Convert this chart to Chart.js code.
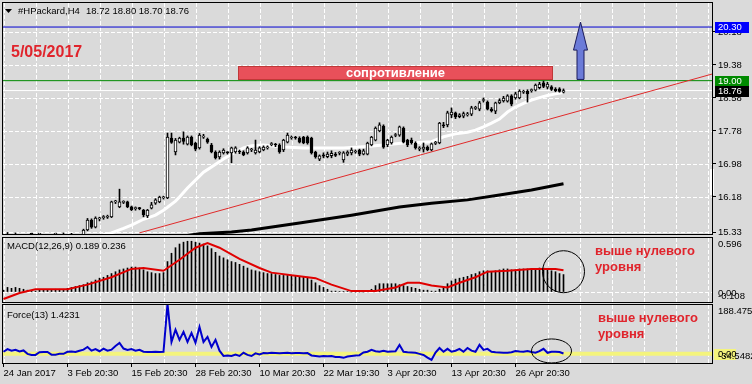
<!DOCTYPE html>
<html>
<head>
<meta charset="utf-8">
<script src="https://cdn.jsdelivr.net/npm/chart.js@4.4.1/dist/chart.umd.min.js"></script>
<style>
  html, body { margin: 0; padding: 0; background: #dadada; }
  #wrap { position: relative; width: 752px; height: 384px; background: #dadada; overflow: hidden; }
  #wrap canvas { position: absolute; left: 0; }
</style>
</head>
<body>
<div id="wrap">
  <canvas id="cMain" width="752" height="236" style="top:0px"></canvas>
  <canvas id="cMacd" width="752" height="67" style="top:236px"></canvas>
  <canvas id="cForce" width="752" height="81" style="top:303px"></canvas>
</div>
<script>
// ---------- texts ----------
const symbolTitle = '#HPackard,H4';
const lastQuote = ['18.72', '18.80', '18.70', '18.76'];
const dateNote = '5/05/2017';
const zoneLabel = 'сопротивление';
const aboveZeroLines = ['выше нулевого', 'уровня'];
const macdTitle = 'MACD(12,26,9) 0.189 0.236';
const forceTitle = 'Force(13) 1.4231';

// ---------- axes ----------
const xTickBars = [0, 16, 32, 48, 64, 80, 96, 112, 128];
const xTickLabels = ['24 Jan 2017', '3 Feb 20:30', '15 Feb 20:30', '28 Feb 20:30', '10 Mar 20:30',
                     '22 Mar 19:30', '3 Apr 20:30', '13 Apr 20:30', '26 Apr 20:30'];
const priceTicks = [15.33, 16.18, 16.98, 17.78, 18.58, 19.38, 20.18];
const PRICE_MIN = 15.283, PRICE_MAX = 20.907;
const MACD_MIN = -0.108, MACD_MAX = 0.596;
const FORCE_MIN = -34.5482, FORCE_MAX = 188.4755;

// ---------- H4 candles ----------
const opens = [
15.10,15.15,15.20,15.08,15.18,15.04,14.95,15.00,14.98,14.94,
14.96,15.06,15.02,15.10,15.12,15.18,15.22,15.14,15.20,15.12,
15.26,15.38,15.62,15.45,15.65,15.68,15.69,15.70,16.06,15.94,
16.05,16.06,15.94,15.90,15.91,15.86,15.72,15.91,16.03,16.06,
16.16,16.16,17.61,17.27,17.51,17.61,17.46,17.63,17.49,17.37,
17.63,17.58,17.44,17.27,17.15,17.25,17.26,17.25,17.27,17.28,
17.27,17.25,17.32,17.25,17.27,17.32,17.37,17.45,17.45,17.44,
17.32,17.51,17.61,17.62,17.60,17.63,17.63,17.61,17.27,17.10,
17.20,17.16,17.18,17.22,17.24,17.08,17.22,17.25,17.27,17.32,
17.22,17.22,17.44,17.56,17.78,17.90,17.44,17.49,17.67,17.68,
17.85,17.56,17.56,17.49,17.34,17.34,17.39,17.32,17.48,17.49,
17.93,17.93,18.17,18.22,18.13,18.14,18.17,18.19,18.33,18.31,
18.52,18.48,18.31,18.26,18.46,18.51,18.50,18.63,18.58,18.58,
18.72,18.74,18.76,18.77,18.83,18.95,18.84,18.85,18.79,18.80,
18.72];
const highs = [
15.20,15.32,15.25,15.31,15.22,15.10,15.05,15.08,15.05,15.02,
15.10,15.12,15.15,15.20,15.22,15.31,15.27,15.30,15.26,15.27,
15.40,15.66,15.65,15.70,15.69,15.73,15.74,16.08,16.10,16.37,
16.09,16.08,15.96,15.94,15.93,15.88,15.88,16.05,16.14,16.20,
16.20,17.73,17.73,17.60,17.63,17.76,17.66,17.66,17.51,17.72,
17.70,17.61,17.48,17.30,17.30,17.35,17.28,17.39,17.40,17.32,
17.30,17.40,17.36,17.56,17.40,17.42,17.42,17.50,17.48,17.47,
17.58,17.73,17.66,17.65,17.64,17.65,17.66,17.63,17.29,17.20,
17.25,17.27,17.30,17.26,17.28,17.28,17.30,17.37,17.32,17.34,
17.34,17.51,17.65,17.88,17.98,17.93,17.58,17.66,17.72,17.90,
17.88,17.58,17.61,17.52,17.40,17.49,17.42,17.49,17.53,17.99,
17.99,18.26,18.34,18.24,18.20,18.24,18.23,18.38,18.38,18.50,
18.58,18.51,18.35,18.48,18.56,18.62,18.66,18.66,18.72,18.78,
18.77,18.78,18.80,18.92,18.96,18.99,18.96,18.88,18.83,18.83,
18.80];
const lows = [
15.05,15.10,15.05,15.02,15.00,14.90,14.85,14.92,14.88,14.86,
14.92,14.98,14.98,15.04,15.06,15.12,15.10,15.10,15.08,15.06,
15.24,15.36,15.42,15.43,15.60,15.64,15.66,15.68,16.02,15.92,
16.02,15.92,15.85,15.86,15.87,15.70,15.68,15.89,16.00,16.04,
16.13,16.14,17.48,17.20,17.49,17.46,17.44,17.42,17.30,17.34,
17.60,17.48,17.25,17.10,17.10,17.22,17.22,17.01,17.24,17.23,
17.18,17.22,17.28,17.22,17.25,17.30,17.34,17.42,17.40,17.24,
17.28,17.49,17.58,17.58,17.49,17.47,17.46,17.22,17.12,17.06,
17.13,17.13,17.13,17.16,17.20,17.02,17.18,17.20,17.24,17.18,
17.20,17.20,17.42,17.54,17.76,17.36,17.40,17.46,17.64,17.65,
17.49,17.40,17.46,17.34,17.30,17.27,17.30,17.30,17.45,17.47,
17.86,17.88,18.10,18.08,18.10,18.10,18.14,18.15,18.30,18.27,
18.48,18.29,18.24,18.20,18.44,18.48,18.48,18.39,18.55,18.56,
18.69,18.48,18.72,18.75,18.80,18.83,18.80,18.76,18.73,18.72,
18.70];
const closes = [
15.15,15.20,15.08,15.18,15.04,14.95,15.00,14.98,14.94,14.96,
15.06,15.02,15.10,15.12,15.18,15.22,15.14,15.20,15.12,15.24,
15.38,15.62,15.45,15.67,15.66,15.70,15.71,16.06,16.07,16.06,
16.06,15.94,15.87,15.91,15.90,15.75,15.86,15.99,16.11,16.18,
16.17,17.63,17.50,17.56,17.61,17.53,17.63,17.44,17.34,17.68,
17.64,17.51,17.27,17.13,17.27,17.32,17.25,17.37,17.37,17.27,
17.20,17.37,17.33,17.32,17.37,17.39,17.38,17.46,17.44,17.27,
17.56,17.68,17.62,17.61,17.51,17.49,17.49,17.25,17.15,17.18,
17.17,17.22,17.24,17.19,17.25,17.25,17.27,17.32,17.28,17.22,
17.30,17.49,17.63,17.85,17.93,17.39,17.56,17.63,17.68,17.88,
17.51,17.44,17.49,17.37,17.37,17.39,17.33,17.47,17.49,17.97,
17.90,18.22,18.24,18.12,18.17,18.20,18.19,18.34,18.34,18.46,
18.53,18.31,18.27,18.46,18.52,18.58,18.63,18.43,18.68,18.75,
18.73,18.68,18.77,18.89,18.92,18.86,18.92,18.79,18.76,18.74,
18.76];

// ---------- moving averages ----------
const maFastBar = [0,15,27,30,32,35,38,40,41,43,44,46,48,50,52,55,58,60,62,65,70,75,80,85,90,95,100,105,107,110,113,116,118,120,122,124,126,128,130,132,134,136,138,140];
const maFastVal = [14.90,15.05,15.31,15.42,15.50,15.64,15.74,15.86,15.93,16.08,16.18,16.40,16.59,16.78,16.91,17.10,17.27,17.37,17.42,17.44,17.39,17.37,17.37,17.37,17.40,17.44,17.49,17.51,17.52,17.64,17.71,17.75,17.80,17.88,17.97,18.07,18.24,18.36,18.45,18.53,18.59,18.64,18.68,18.71];
const maSlowBar = [0,49,57,62,74,87,99,107,116,124,132,140];
const maSlowVal = [14.60,15.29,15.33,15.38,15.55,15.74,15.94,16.03,16.11,16.23,16.35,16.50];

// ---------- drawn objects ----------
const trendBar = [34, 177.125];
const trendVal = [15.31, 19.16];
const levelTarget = 20.30, levelResist = 19.00, levelBid = 18.76;
const zoneBars = [58.6, 137.4];
const zonePrices = [19.03, 19.36];
const arrowBar = 144, arrowFrom = 19.03, arrowTo = 20.42;

// ---------- MACD ----------
const macdHist = [
0.02,0.05,0.04,0.05,0.04,0.03,0.02,0.01,0.01,0.02,
0.02,0.02,0.02,0.03,0.03,0.03,0.04,0.05,0.06,0.07,
0.08,0.10,0.11,0.13,0.15,0.16,0.18,0.20,0.22,0.24,
0.25,0.26,0.27,0.27,0.26,0.24,0.22,0.21,0.20,0.20,
0.21,0.33,0.42,0.48,0.52,0.54,0.55,0.55,0.54,0.53,
0.52,0.50,0.47,0.43,0.39,0.37,0.35,0.33,0.32,0.30,
0.28,0.26,0.24,0.23,0.22,0.21,0.20,0.20,0.19,0.18,
0.18,0.18,0.18,0.17,0.17,0.17,0.16,0.13,0.10,0.07,
0.05,0.03,0.01,0.01,0.005,0.005,0.005,0,0,0,
0,0.01,0.03,0.07,0.09,0.09,0.09,0.09,0.09,0.08,
0.07,0.06,0.05,0.04,0.03,0.02,0.02,0.01,0.01,0.03,
0.05,0.09,0.12,0.14,0.15,0.16,0.17,0.19,0.20,0.22,
0.23,0.23,0.22,0.23,0.24,0.25,0.25,0.24,0.24,0.25,
0.25,0.25,0.25,0.25,0.26,0.26,0.25,0.23,0.22,0.20,
0.189];
const macdSigBar = [0,4,8,16,21,27,32,35,40,44,48,51,54,59,64,67,74,78,82,87,93,98,101,104,107,111,114,118,121,126,132,138,140];
const macdSigVal = [-0.076,-0.01,0.03,0.03,0.08,0.16,0.25,0.26,0.23,0.35,0.48,0.53,0.48,0.36,0.26,0.21,0.17,0.15,0.08,0.01,0.01,0.05,0.10,0.10,0.07,0.05,0.10,0.16,0.22,0.23,0.25,0.25,0.236];

// ---------- Force index ----------
const forceVal = [
8,18,12,15,9,13,0,-4,-4,6,
7,7,-3,-3,0,0,8,9,7,12,
16,26,12,18,10,20,12,16,30,41,
20,15,18,12,15,8,7,7,8,7,
8,188.4755,45,91,53,83,45,79,42,102,
45,64,26,53,12,-8,-6,-8,-3,-8,
4,-4,-8,2,-2,3,2,4,3,2,
3,4,2,3,3,2,3,-6,-8,-10,
-8,-9,-8,-12,-12,-15,-10,-8,-6,-5,
5,8,15,10,8,12,8,9,10,34,
8,6,5,4,0,-4,-14,-23,5,22,
8,19,8,12,19,8,22,12,8,34,
15,19,8,6,5,4,4,6,11,9,
8,11,7,4,10,19,4,8,8,7,
1.4231];

// ---------- setup ----------
const FONT = '"Liberation Sans", Arial, sans-serif';
Chart.defaults.font.family = FONT;
Chart.defaults.font.size = 9.5;
Chart.defaults.color = '#000';

const X_MIN = -0.375, X_MAX = 177.125;
const gridBars = [];
for (let v = 0; v <= 176; v += 8) gridBars.push(v);
const barIdx = opens.map((_, i) => i);

function xScale(showLabels) {
  return {
    type: 'linear', min: X_MIN, max: X_MAX, offset: false,
    afterBuildTicks: s => { s.ticks = gridBars.map(v => ({ value: v })); },
    afterFit: s => { s.height = showLabels ? 21 : 0; },
    grid: {
      offset: false, drawOnChartArea: false, color: '#000', lineWidth: 1, drawTicks: showLabels, tickLength: 4, tickWidth: 1,
      tickColor: c => (c.tick && xTickBars.includes(c.tick.value)) ? '#000' : 'rgba(0,0,0,0)',
      tickBorderDash: []
    },
    border: { display: false },
    ticks: {
      display: showLabels, autoSkip: false, maxRotation: 0, minRotation: 0, align: 'start', padding: 1,
      color: '#000', font: { size: 9.5 },
      callback: v => { const k = xTickBars.indexOf(v); return k >= 0 ? xTickLabels[k] : ''; }
    }
  };
}
function baseOptions(padding, scales) {
  return {
    responsive: false, animation: false, devicePixelRatio: 1, events: [],
    layout: { padding, autoPadding: false },
    plugins: { legend: { display: false }, tooltip: { enabled: false } },
    elements: { point: { radius: 0 }, line: { tension: 0 } },
    scales
  };
}
// dashed white grid, positioned through the scales
function drawDashGrid(chart, horizontal) {
  const { ctx, chartArea: a, scales } = chart;
  const x = scales.x, y = scales.y;
  ctx.save();
  ctx.fillStyle = '#ffffff';
  gridBars.forEach(v => {
    const px = Math.round(x.getPixelForValue(v));
    if (px > a.left + 1 && px < a.right - 1) {
      for (let yy = Math.round(a.top) + 1; yy < a.bottom; yy += 6) ctx.fillRect(px, yy, 1, Math.min(4, a.bottom - yy));
    }
  });
  if (horizontal) {
    horizontal.forEach(v => {
      const py = Math.round(y.getPixelForValue(v));
      for (let xx = Math.round(a.left) + 1; xx < a.right; xx += 6) ctx.fillRect(xx, py, Math.min(4, a.right - xx), 1);
    });
  }
  ctx.restore();
}
function pts(xs, ys) { return xs.map((b, k) => ({ x: b, y: ys[k] })); }
function hline(v) { return [{ x: X_MIN, y: v }, { x: X_MAX, y: v }]; }
function frame(ctx, a) {
  ctx.strokeStyle = '#000'; ctx.lineWidth = 1; ctx.setLineDash([]);
  ctx.strokeRect(a.left + 0.5, a.top + 0.5, a.right - a.left, a.bottom - a.top);
}
function redNote(ctx, x0, y1, y2) {
  ctx.fillStyle = '#e0242c'; ctx.font = 'bold 13px ' + FONT;
  ctx.textAlign = 'left'; ctx.textBaseline = 'middle';
  ctx.fillText(aboveZeroLines[0], x0, y1);
  ctx.fillText(aboveZeroLines[1], x0, y2);
}

// ---------- main price chart ----------
const mainDecor = {
  id: 'mainDecor',
  beforeDatasetsDraw(chart) { drawDashGrid(chart, priceTicks); },
  afterDraw(chart) {
    const { ctx, chartArea: a, scales: { x, y } } = chart;
    ctx.save();
    // resistance zone
    const zx1 = x.getPixelForValue(zoneBars[0]), zx2 = x.getPixelForValue(zoneBars[1]);
    const zy1 = y.getPixelForValue(zonePrices[1]), zy2 = y.getPixelForValue(zonePrices[0]);
    ctx.fillStyle = '#e8505a';
    ctx.fillRect(Math.round(zx1), Math.round(zy1), Math.round(zx2 - zx1), Math.round(zy2 - zy1));
    ctx.strokeStyle = '#c03838'; ctx.lineWidth = 1;
    ctx.strokeRect(Math.round(zx1) + 0.5, Math.round(zy1) + 0.5, Math.round(zx2 - zx1) - 1, Math.round(zy2 - zy1) - 1);
    ctx.fillStyle = '#ffffff'; ctx.font = 'bold 13px ' + FONT;
    ctx.textAlign = 'center'; ctx.textBaseline = 'middle';
    ctx.fillText(zoneLabel, (zx1 + zx2) / 2, (zy1 + zy2) / 2 + 1);
    // arrow
    const ax = Math.round(x.getPixelForValue(arrowBar)) + 0.5;
    const yTip = y.getPixelForValue(arrowTo), yBase = y.getPixelForValue(arrowFrom);
    const headLen = 28, headHalf = 7, shaftHalf = 3.5;
    ctx.beginPath();
    ctx.moveTo(ax, yTip);
    ctx.lineTo(ax + headHalf, yTip + headLen);
    ctx.lineTo(ax + shaftHalf, yTip + headLen);
    ctx.lineTo(ax + shaftHalf, yBase);
    ctx.lineTo(ax - shaftHalf, yBase);
    ctx.lineTo(ax - shaftHalf, yTip + headLen);
    ctx.lineTo(ax - headHalf, yTip + headLen);
    ctx.closePath();
    ctx.fillStyle = '#6b7bd8'; ctx.fill();
    ctx.strokeStyle = '#1a1a5a'; ctx.lineWidth = 1; ctx.stroke();
    // white marker on the scale edge
    ctx.fillStyle = '#ffffff';
    ctx.fillRect(a.right - 2, 169, 4, 26);
    frame(ctx, a);
    // header
    ctx.fillStyle = '#000';
    ctx.beginPath(); ctx.moveTo(5, 9); ctx.lineTo(12, 9); ctx.lineTo(8.5, 13); ctx.closePath(); ctx.fill();
    ctx.font = '9.5px ' + FONT; ctx.textAlign = 'left'; ctx.textBaseline = 'middle';
    ctx.fillText(symbolTitle, 18, 11);
    ctx.fillText(lastQuote.join(' '), 86, 11);
    // date
    ctx.fillStyle = '#e0242c'; ctx.font = 'bold 16px ' + FONT;
    ctx.fillText(dateNote, 11, 53);
    // price boxes
    const boxes = [[levelTarget, '#0000ff'], [levelResist, '#008a00'], [levelBid, '#000000']];
    ctx.font = '9.5px ' + FONT;
    boxes.forEach(([v, col]) => {
      const py = Math.round(y.getPixelForValue(v));
      ctx.fillStyle = col; ctx.fillRect(a.right + 3, py - 5, 34, 11);
      ctx.fillStyle = '#fff'; ctx.fillText(v.toFixed(2), a.right + 6, py + 0.5);
    });
    ctx.restore();
  }
};

new Chart(document.getElementById('cMain'), {
  type: 'line',
  data: {
    datasets: [
      { type: 'bar', label: 'body', data: barIdx.map(i => ({ x: i, y: [opens[i], closes[i]] })),
        backgroundColor: barIdx.map(i => closes[i] >= opens[i] ? '#ffffff' : '#000000'),
        borderColor: '#000', borderWidth: 1, borderSkipped: false, barThickness: 3, minBarLength: 1,
        grouped: false, order: 0, clip: 0 },
      { type: 'bar', label: 'wick', data: barIdx.map(i => ({ x: i, y: [lows[i], highs[i]] })),
        backgroundColor: '#000', borderWidth: 0, barThickness: 1, grouped: false, order: 1, clip: 0 },
      { label: 'MA fast', data: pts(maFastBar, maFastVal), borderColor: '#ffffff', borderWidth: 3, order: 2, clip: 0 },
      { label: 'MA slow', data: pts(maSlowBar, maSlowVal), borderColor: '#000000', borderWidth: 3, order: 3, clip: 0 },
      { label: 'trend', data: pts(trendBar, trendVal), borderColor: '#e02a2a', borderWidth: 1, order: 4, clip: 0 },
      { label: 'target', data: hline(levelTarget), borderColor: '#0000d0', borderWidth: 1, order: 5, clip: 0 },
      { label: 'resistance', data: hline(levelResist), borderColor: '#008a00', borderWidth: 1, order: 6, clip: 0 },
      { label: 'bid', data: hline(levelBid), borderColor: '#ffffff', borderWidth: 1, order: 7, clip: 0 }
    ]
  },
  options: baseOptions({ left: 2, top: 2, right: 0, bottom: 2 }, {
    x: xScale(false),
    y: {
      type: 'linear', position: 'right', min: PRICE_MIN, max: PRICE_MAX,
      afterBuildTicks: s => { s.ticks = priceTicks.map(v => ({ value: v })); },
      afterFit: s => { s.width = 40; s.paddingTop = 0; s.paddingBottom = 0; },
      grid: { drawOnChartArea: false, color: '#000', lineWidth: 1, drawTicks: true, tickLength: 4, tickColor: '#000', tickBorderDash: [] },
      border: { display: false },
      ticks: { color: '#000', padding: 2, autoSkip: false, font: { size: 9.5 }, callback: v => Number(v).toFixed(2) }
    }
  }),
  plugins: [mainDecor]
});

// ---------- MACD ----------
const macdDecor = {
  id: 'macdDecor',
  beforeDatasetsDraw(chart) { drawDashGrid(chart, [0]); },
  afterDraw(chart) {
    const { ctx, chartArea: a, scales: { x, y } } = chart;
    ctx.save();
    frame(ctx, a);
    ctx.fillStyle = '#000'; ctx.font = '9.5px ' + FONT; ctx.textAlign = 'left';
    ctx.textBaseline = 'middle'; ctx.fillText(macdTitle, 7, a.top + 9);
    ctx.textBaseline = 'top'; ctx.fillText(MACD_MAX.toFixed(3), a.right + 6, y.getPixelForValue(MACD_MAX) + 3);
    ctx.textBaseline = 'middle'; ctx.fillText('0.00', a.right + 6, y.getPixelForValue(0) + 1);
    ctx.textBaseline = 'bottom'; ctx.fillText(MACD_MIN.toFixed(3), a.right + 6, y.getPixelForValue(MACD_MIN) - 1);
    ctx.strokeStyle = '#000'; ctx.lineWidth = 1;
    ctx.beginPath(); ctx.arc(x.getPixelForValue(140), y.getPixelForValue(0.22), 21, 0, Math.PI * 2); ctx.stroke();
    redNote(ctx, 595, a.top + 14, a.top + 30);
    ctx.restore();
  }
};
new Chart(document.getElementById('cMacd'), {
  type: 'line',
  data: {
    datasets: [
      { label: 'signal', data: pts(macdSigBar, macdSigVal), borderColor: '#e00000', borderWidth: 2, order: 0, clip: 0 },
      { type: 'bar', label: 'macd', data: barIdx.map(i => ({ x: i, y: macdHist[i] })),
        backgroundColor: '#000', borderWidth: 0, barThickness: 1, grouped: false, order: 1, clip: 0 }
    ]
  },
  options: baseOptions({ left: 2, top: 1, right: 0, bottom: 1 }, {
    x: xScale(false),
    y: {
      type: 'linear', position: 'right', min: MACD_MIN, max: MACD_MAX,
      afterBuildTicks: s => { s.ticks = [{ value: 0 }]; },
      afterFit: s => { s.width = 40; s.paddingTop = 0; s.paddingBottom = 0; },
      grid: { drawOnChartArea: false, drawTicks: false },
      border: { display: false },
      ticks: { display: false }
    }
  }),
  plugins: [macdDecor]
});

// ---------- Force ----------
const forceDecor = {
  id: 'forceDecor',
  beforeDatasetsDraw(chart) { drawDashGrid(chart, null); },
  afterDraw(chart) {
    const { ctx, chartArea: a, scales: { x, y } } = chart;
    ctx.save();
    frame(ctx, a);
    ctx.fillStyle = '#000'; ctx.font = '9.5px ' + FONT; ctx.textAlign = 'left';
    ctx.textBaseline = 'middle'; ctx.fillText(forceTitle, 7, a.top + 11);
    ctx.textBaseline = 'top'; ctx.fillText(FORCE_MAX.toFixed(4), a.right + 6, y.getPixelForValue(FORCE_MAX) + 3);
    const zy = Math.round(y.getPixelForValue(0));
    ctx.fillStyle = '#f4f47c'; ctx.fillRect(a.right + 2, zy - 5, 22, 11);
    ctx.fillStyle = '#000'; ctx.textBaseline = 'middle'; ctx.fillText('0.00', a.right + 6, zy);
    ctx.textBaseline = 'bottom'; ctx.fillText(FORCE_MIN.toFixed(4), a.right + 6, y.getPixelForValue(FORCE_MIN) - 2);
    ctx.strokeStyle = '#000'; ctx.lineWidth = 1;
    ctx.beginPath(); ctx.ellipse(x.getPixelForValue(137), y.getPixelForValue(11), 20, 12, 0, 0, Math.PI * 2); ctx.stroke();
    redNote(ctx, 598, a.top + 14, a.top + 30);
    ctx.restore();
  }
};
new Chart(document.getElementById('cForce'), {
  type: 'line',
  data: {
    datasets: [
      { label: 'force', data: pts(barIdx, forceVal), borderColor: '#0000cc', borderWidth: 2, order: 0, clip: 0 },
      { label: 'zero', data: hline(0), borderColor: '#f4f47c', borderWidth: 4, order: 1, clip: 0 }
    ]
  },
  options: baseOptions({ left: 2, top: 1, right: 0, bottom: 0 }, {
    x: xScale(true),
    y: {
      type: 'linear', position: 'right', min: FORCE_MIN, max: FORCE_MAX,
      afterBuildTicks: s => { s.ticks = [{ value: 0 }]; },
      afterFit: s => { s.width = 40; s.paddingTop = 0; s.paddingBottom = 0; },
      grid: { display: false },
      border: { display: false },
      ticks: { display: false }
    }
  }),
  plugins: [forceDecor]
});
</script>
</body>
</html>
